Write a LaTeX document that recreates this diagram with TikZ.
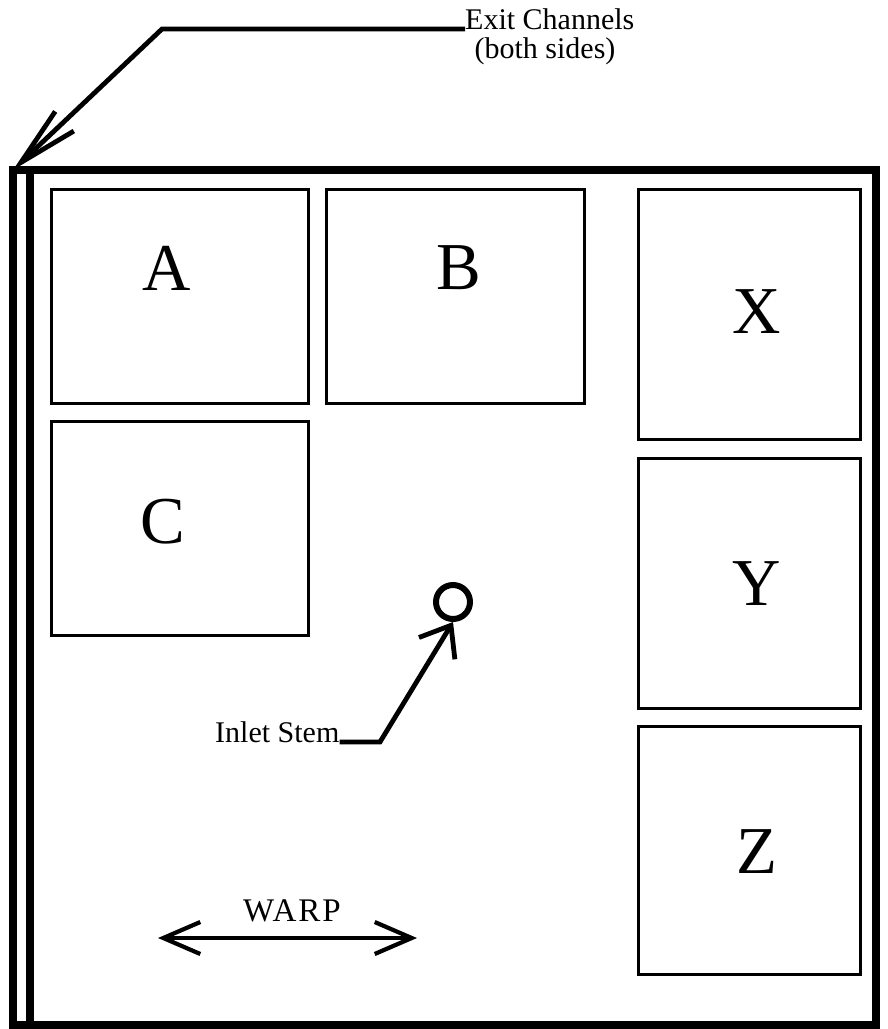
\documentclass[tikz,border=0pt]{standalone}
\usepackage{fontspec}
\setmainfont{Liberation Serif}
\usetikzlibrary{arrows.meta}
\begin{document}
\begin{tikzpicture}[x=1pt,y=-1pt,
  frameline/.style={line width=8pt},
  room/.style={draw,line width=2.8pt,inner sep=0pt,anchor=north west},
  big/.style={font=\fontsize{67}{67}\selectfont,inner sep=0pt},
  lead/.style={line width=4.8pt,line join=miter},
  small/.style={font=\fontsize{30}{32}\selectfont,inner sep=0pt}
]
\useasboundingbox (0,0) rectangle (888,1029);
% frame
\coordinate (tl) at (13,170);
\coordinate (tr) at (876,170);
\coordinate (bl) at (13,1025);
\coordinate (br) at (876,1025);
\coordinate (itl) at (30,170);
\coordinate (ibl) at (30,1025);
\draw[frameline] (tl) -- (tr) -- (br) -- (bl) -- cycle;
\draw[frameline] (itl) -- (ibl);
% rooms
\node[room,minimum width=257pt,minimum height=214pt] (A) at (50,188) {};
\node[room,minimum width=258pt,minimum height=214pt] (B) at (325,188) {};
\node[room,minimum width=257pt,minimum height=214pt] (C) at (50,420) {};
\node[room,minimum width=222pt,minimum height=250pt] (X) at (637,188) {};
\node[room,minimum width=222pt,minimum height=250pt] (Y) at (637,457) {};
\node[room,minimum width=222pt,minimum height=248pt] (Z) at (637,725) {};
\node[big] (Al) at (167,268) {A};
\node[big] (Bl) at (459,268) {B};
\node[big] (Cl) at (163,522) {C};
\node[big] (Xl) at (757,312) {X};
\node[big] (Yl) at (757,584) {Y};
\node[big] (Zl) at (757,852) {Z};
% exit channels
\node[small,anchor=base west] (exit) at (465,29) {Exit Channels};
\node[small,anchor=base] (both) at (545,58) {(both sides)};
\coordinate (ebend) at (162,29);
\draw[lead,-{Straight Barb[length=60pt,width=27pt]}] (exit.base west) -- (ebend) -- (tl);
% inlet stem
\node[draw,circle,line width=6pt,minimum size=34pt,inner sep=0pt] (stem) at (453,602) {};
\node[small,anchor=base west] (inlet) at (215,742) {Inlet Stem};
\coordinate (ibend) at (380,742);
\draw[lead,-{Straight Barb[length=27pt,width=42pt]}] (inlet.base east) -- (ibend) -- (stem.south);
% warp
\coordinate (wl) at (158,938);
\coordinate (wr) at (417,938);
\draw[line width=4.2pt,{Straight Barb[length=37pt,width=32pt]}-{Straight Barb[length=37pt,width=32pt]}] (wl) -- (wr);
\node[small,font=\fontsize{33}{33}\addfontfeatures{LetterSpace=6}\selectfont,anchor=base] (warp) at (292,921) {WARP};
\end{tikzpicture}
\end{document}
